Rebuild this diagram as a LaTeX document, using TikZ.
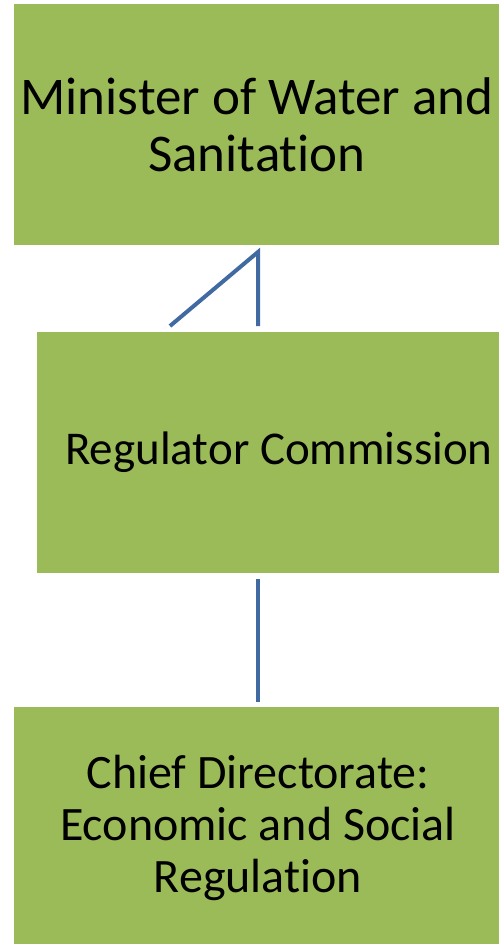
\documentclass[tikz,border=0pt]{standalone}
\usepackage{fontspec}
\setmainfont{Carlito}[Ligatures=NoCommon]
\usepackage{tikz}
\usepackage{xcolor}
\usetikzlibrary{positioning,calc}

\definecolor{boxgreen}{RGB}{155,187,89}
\definecolor{linkblue}{RGB}{66,106,162}

\tikzset{
    orgbox/.style={fill=boxgreen, draw=none, align=center, text=black, inner sep=0pt},
    link/.style={draw=linkblue, line width=4pt, line join=miter}
}

\begin{document}
\begin{tikzpicture}[x=1pt,y=-1pt]
        \useasboundingbox (0,0) rectangle (498,944);

        \node[orgbox, minimum width=486pt, minimum height=241pt,
              font=\fontsize{53}{57}\selectfont] (minister) at (257,124.5) {Minister of Water and\\Sanitation};
        \node[orgbox, minimum width=484pt, minimum height=241pt,
              font=\fontsize{47}{57}\selectfont] (regulator) at (279,452.5) {Regulator Commission};
        \node[orgbox, minimum width=488pt, minimum height=241pt,
              font=\fontsize{48}{52}\selectfont] (chief) at (258,827.5) {Chief Directorate:\\Economic and Social\\Regulation};

        % bent link under the minister box
        \coordinate (apex) at (258,252);
        \coordinate (kink) at (170,326);
        \coordinate (foot) at (258,326);
        \draw[link] (kink) -- (apex) -- (foot);

        \draw[link, shorten <=6pt, shorten >=5pt] (regulator.south -| apex) -- (chief.north -| apex);
    \end{tikzpicture}
\end{document}
